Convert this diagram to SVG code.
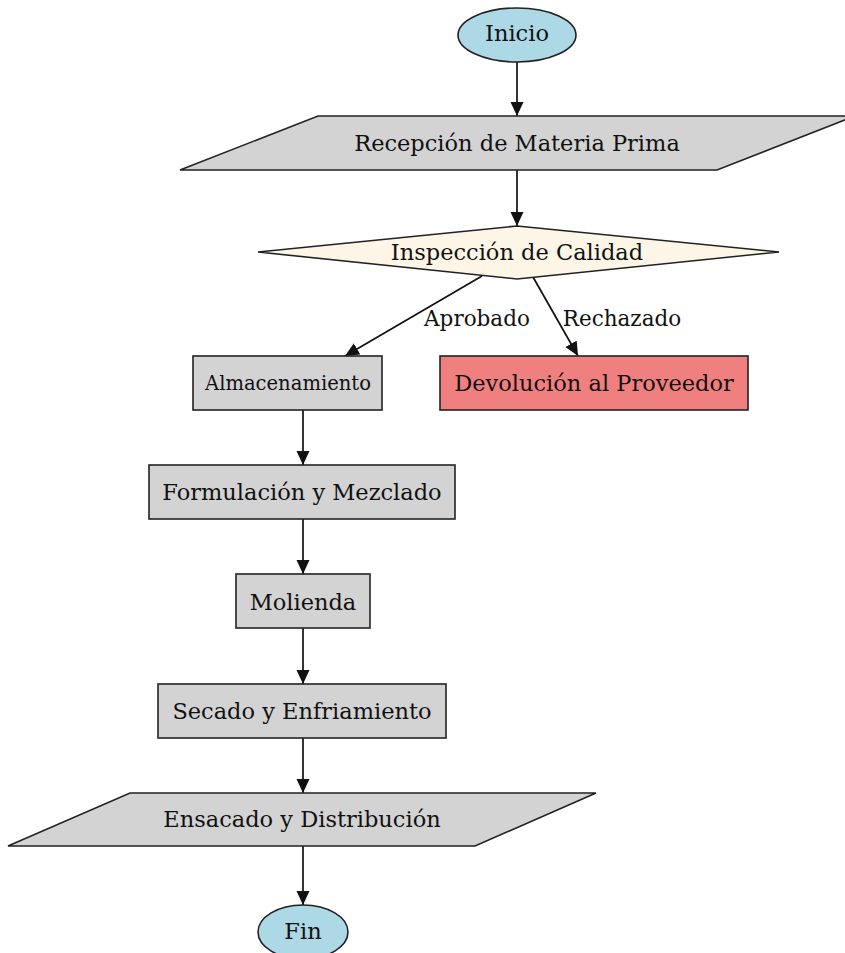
<svg xmlns="http://www.w3.org/2000/svg" width="845" height="953" viewBox="0 0 845 953">
<style>
.node{stroke:#222;stroke-width:1.6}
.proc{fill:#d3d3d3}
.term{fill:#add8e6}
.dec{fill:#fdf5e6}
.rej{fill:#f08080}
text{font-family:"DejaVu Serif","Liberation Serif",serif;font-size:22.5px;fill:#111;text-anchor:middle;dominant-baseline:central}
.lbl{font-size:21.5px}
.edge{stroke:#111;stroke-width:1.7;fill:none;marker-end:url(#ah)}
</style>
<defs>
<marker id="ah" markerUnits="userSpaceOnUse" markerWidth="16" markerHeight="14" refX="14" refY="6.5" orient="auto">
<path d="M0,0 L14,6.5 L0,13 Z" fill="#111"/>
</marker>
</defs>
<rect width="845" height="953" fill="#fff"/>
<g id="edges">
<line class="edge" x1="517" y1="62" x2="517" y2="116"/>
<line class="edge" x1="517" y1="170" x2="517" y2="226"/>
<line class="edge" x1="482" y1="276" x2="345" y2="356"/>
<line class="edge" x1="533" y1="277" x2="578" y2="356"/>
<line class="edge" x1="303" y1="410" x2="303" y2="465"/>
<line class="edge" x1="303" y1="519" x2="303" y2="574"/>
<line class="edge" x1="303" y1="628" x2="303" y2="684"/>
<line class="edge" x1="303" y1="738" x2="303" y2="793"/>
<line class="edge" x1="303" y1="846" x2="303" y2="905"/>
<text class="lbl" x="477" y="318">Aprobado</text>
<text class="lbl" x="622" y="318">Rechazado</text>
</g>
<g id="inicio">
<ellipse class="node term" cx="517" cy="35" rx="59" ry="27"/>
<text x="517" y="33">Inicio</text>
</g>
<g id="recepcion">
<polygon class="node proc" points="318,116 855,116 717,170 180,170"/>
<text x="517" y="143">Recepción de Materia Prima</text>
</g>
<g id="inspeccion">
<polygon class="node dec" points="517,226 779,252 517,279 258,252"/>
<text x="517" y="252">Inspección de Calidad</text>
</g>
<g id="almacenamiento">
<rect class="node proc" x="193" y="356" width="189" height="54"/>
<text x="288" y="383" style="font-size:21px" textLength="166" lengthAdjust="spacingAndGlyphs">Almacenamiento</text>
</g>
<g id="devolucion">
<rect class="node rej" x="440" y="356" width="308" height="54"/>
<text x="594" y="383">Devolución al Proveedor</text>
</g>
<g id="formulacion">
<rect class="node proc" x="149" y="465" width="306" height="54"/>
<text x="302" y="492">Formulación y Mezclado</text>
</g>
<g id="molienda">
<rect class="node proc" x="236" y="574" width="134" height="54"/>
<text x="303" y="602">Molienda</text>
</g>
<g id="secado">
<rect class="node proc" x="158" y="684" width="288" height="54"/>
<text x="302" y="711">Secado y Enfriamiento</text>
</g>
<g id="ensacado">
<polygon class="node proc" points="130,793 596,793 475,846 8,846"/>
<text x="302" y="819">Ensacado y Distribución</text>
</g>
<g id="fin">
<ellipse class="node term" cx="303" cy="932" rx="45" ry="27"/>
<text x="303" y="931">Fin</text>
</g>
</svg>
